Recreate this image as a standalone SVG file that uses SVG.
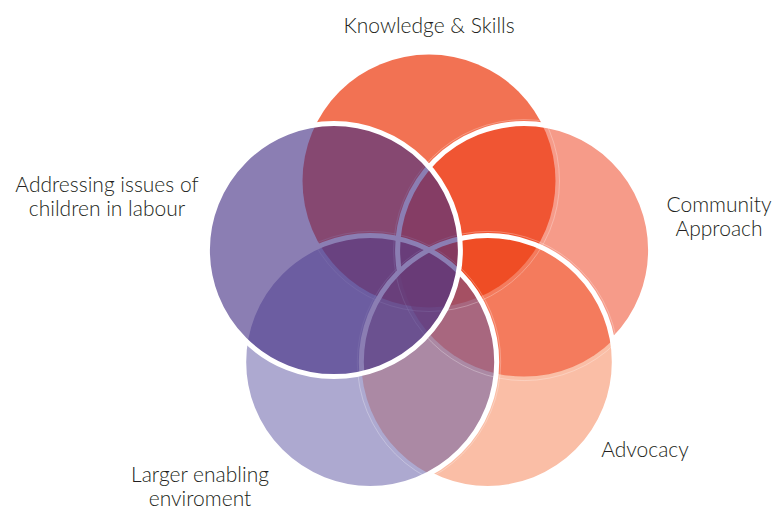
<svg xmlns="http://www.w3.org/2000/svg" width="775" height="512" viewBox="0 0 775 512">
  <style>
    .label { font-family: Lato, "Liberation Sans", sans-serif; font-weight: 300; font-size: 21px; fill: #231f20; text-anchor: middle; }
    .ring { fill: none; stroke: #ffffff; stroke-width: 5; }
    .hair { fill: none; stroke: #ffffff; stroke-width: 0.8; stroke-opacity: 0.35; }
  </style>
  <defs>
    <!-- five circles on a regular pentagon, centre (429,281), radius 100 -->
    <circle id="c-top" cx="429" cy="181" r="126.5"/>
    <circle id="c-right" cx="524.1" cy="250.1" r="126.5"/>
    <circle id="c-br" cx="487.8" cy="361.9" r="126.5"/>
    <circle id="c-bl" cx="370.2" cy="361.9" r="126.5"/>
    <circle id="c-left" cx="333.9" cy="250.1" r="126.5"/>
    <!-- ring of "Community" is hidden where the Advocacy disc lies -->
    <mask id="m-right-ring" maskUnits="userSpaceOnUse" x="0" y="0" width="775" height="512">
      <rect width="775" height="512" fill="#fff"/>
      <use href="#c-br" fill="#000"/>
    </mask>
    <!-- ring of "Advocacy" is hidden inside the lower-left disc, except under the left disc -->
    <mask id="m-br-ring" maskUnits="userSpaceOnUse" x="0" y="0" width="775" height="512">
      <rect width="775" height="512" fill="#fff"/>
      <use href="#c-bl" fill="#000"/>
      <use href="#c-left" fill="#fff"/>
    </mask>
  </defs>

  <g id="node-knowledge">
    <use href="#c-top" fill="#f27253"/>
    <text class="label" x="429" y="33">Knowledge &amp; Skills</text>
  </g>

  <g id="node-advocacy">
    <use href="#c-br" fill="#f14500" fill-opacity="0.35"/>
    <text class="label" x="645" y="457">Advocacy</text>
  </g>

  <g id="node-community">
    <use href="#c-right" fill="#ee3714" fill-opacity="0.5"/>
    <text class="label" x="719" y="212">Community</text>
    <text class="label" x="719" y="236">Approach</text>
  </g>

  <g id="node-enabling">
    <use href="#c-bl" fill="#5b53a1" fill-opacity="0.5"/>
    <text class="label" x="200" y="482">Larger enabling</text>
    <text class="label" x="200" y="506">enviroment</text>
  </g>

  <!-- white outlines lying under the left disc -->
  <g id="outlines">
    <circle class="hair" cx="429" cy="181" r="130.5"/>
    <circle class="hair" cx="524.1" cy="250.1" r="130.5"/>
    <circle class="hair" cx="487.8" cy="361.9" r="130.5"/>
    <circle class="hair" cx="370.2" cy="361.9" r="130.5"/>
    <use href="#c-right" class="ring" mask="url(#m-right-ring)"/>
    <use href="#c-br" class="ring" mask="url(#m-br-ring)"/>
    <use href="#c-bl" class="ring"/>
  </g>

  <g id="node-addressing">
    <use href="#c-left" fill="#442e84" fill-opacity="0.62"/>
    <use href="#c-left" class="ring"/>
    <text class="label" x="107" y="192">Addressing issues of</text>
    <text class="label" x="107" y="216">children in labour</text>
  </g>
</svg>
